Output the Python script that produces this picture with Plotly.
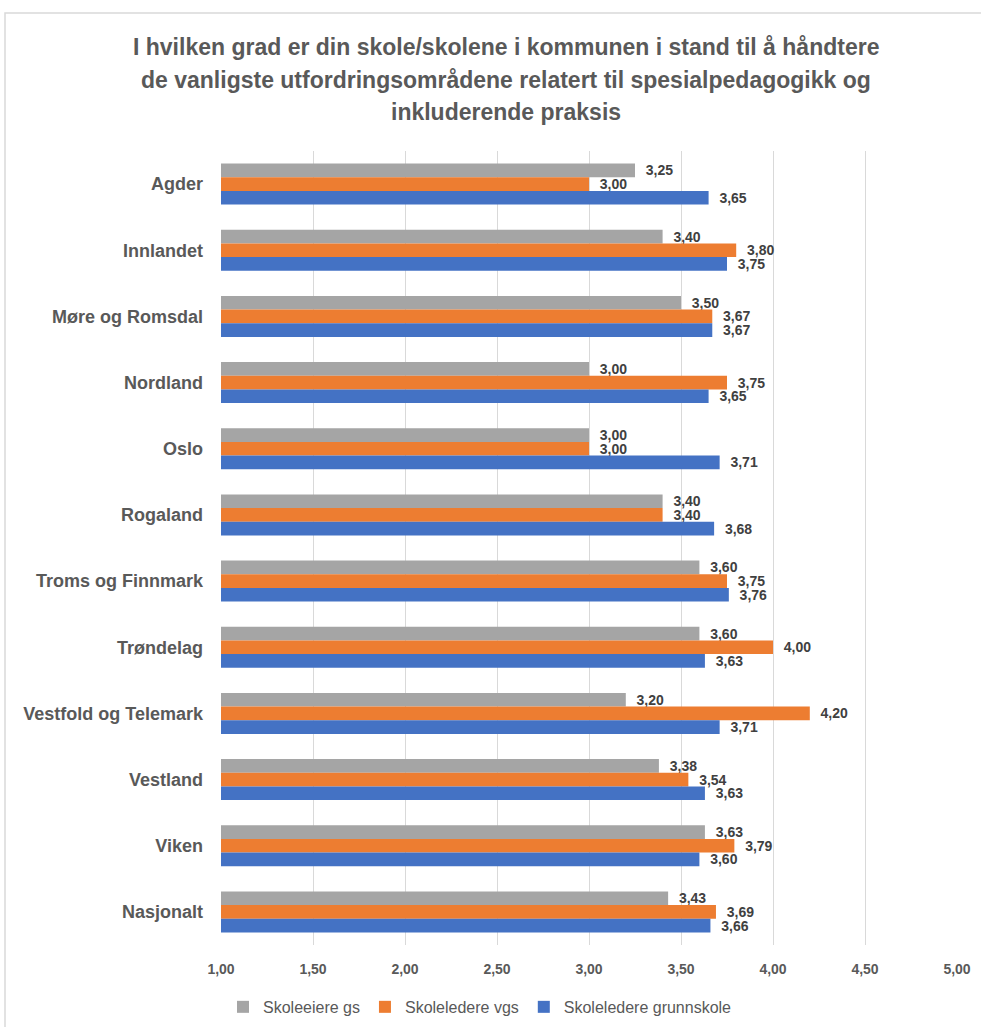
import plotly.graph_objects as go

# Regions shown on the category axis, top to bottom
regions = [
    "Agder", "Innlandet", "Møre og Romsdal", "Nordland", "Oslo", "Rogaland",
    "Troms og Finnmark", "Trøndelag", "Vestfold og Telemark", "Vestland",
    "Viken", "Nasjonalt",
]

# Mean scores per respondent group
skoleeiere_gs = [3.25, 3.40, 3.50, 3.00, 3.00, 3.40, 3.60, 3.60, 3.20, 3.38, 3.63, 3.43]
skoleledere_vgs = [3.00, 3.80, 3.67, 3.75, 3.00, 3.40, 3.75, 4.00, 4.20, 3.54, 3.79, 3.69]
skoleledere_grunnskole = [3.65, 3.75, 3.67, 3.65, 3.71, 3.68, 3.76, 3.63, 3.71, 3.63, 3.60, 3.66]

x_ticks = [1.0, 1.5, 2.0, 2.5, 3.0, 3.5, 4.0, 4.5, 5.0]

title_lines = [
    "I hvilken grad er din skole/skolene i kommunen i stand til å håndtere",
    "de vanligste utfordringsområdene relatert til spesialpedagogikk og",
    "inkluderende praksis",
]

series = [
    ("Skoleeiere gs", skoleeiere_gs, "#a5a5a5"),
    ("Skoleledere vgs", skoleledere_vgs, "#ed7d31"),
    ("Skoleledere grunnskole", skoleledere_grunnskole, "#4472c4"),
]

FONT = "Liberation Sans"
GREY_TEXT = "#595959"
NBSP = "\u00a0"

fig = go.Figure()
for name, values, color in series:
    fig.add_trace(go.Bar(
        y=regions,
        x=values,
        name=name,
        orientation="h",
        marker=dict(color=color, line=dict(width=0)),
        text=[NBSP * 2 + f"{v:.2f}".replace(".", ",") for v in values],
        textposition="outside",
        constraintext="none",
        textfont=dict(family=FONT, size=14, color="#404040", weight="bold"),
        cliponaxis=False,
    ))

W, H = 981, 1027
L, R, T, B = 221, 24, 151, 82

fig.update_layout(
    width=W,
    height=H,
    margin=dict(l=L, r=R, t=T, b=B, autoexpand=False),
    paper_bgcolor="white",
    plot_bgcolor="white",
    barmode="group",
    bargap=0.38,
    bargroupgap=0,
    separators=",.",
    font=dict(family=FONT, color=GREY_TEXT),
    showlegend=True,
    legend=dict(
        orientation="h",
        x=(223 - L) / (W - L - R), xanchor="left",
        y=-0.078, yanchor="middle",
        font=dict(family=FONT, size=16, color=GREY_TEXT),
        traceorder="normal",
        itemwidth=30,
    ),
    xaxis=dict(
        range=[1, 5],
        tickvals=x_ticks,
        tickformat=".2f",
        showgrid=True,
        gridcolor="#d9d9d9",
        gridwidth=1,
        zeroline=False,
        showline=False,
        ticks="",
        automargin=False,
        ticklabelstandoff=14,
        tickfont=dict(family=FONT, size=14, color=GREY_TEXT, weight="bold"),
    ),
    yaxis=dict(
        autorange="reversed",
        showgrid=False,
        zeroline=False,
        showline=False,
        ticks="",
        automargin=False,
        ticklabelstandoff=17,
        tickfont=dict(family=FONT, size=18, color=GREY_TEXT, weight="bold"),
    ),
)

# Chart frame
plot_w = W - L - R
plot_h = H - T - B
fig.add_shape(
    type="rect", xref="paper", yref="paper",
    x0=(5 - L) / plot_w, x1=(W + 10 - L) / plot_w,
    y0=(H - B - (H + 10)) / plot_h, y1=(H - B - 13) / plot_h,
    line=dict(color="#d9d9d9", width=1.5),
    fillcolor="rgba(0,0,0,0)",
    layer="below",
)

# Title, one annotation per line
for i, line in enumerate(title_lines):
    fig.add_annotation(
        text=line,
        xref="paper", yref="paper",
        x=(506 - L) / plot_w, y=(H - B - (47 + 32.5 * i)) / plot_h,
        xanchor="center", yanchor="middle",
        showarrow=False,
        font=dict(family=FONT, size=23, color=GREY_TEXT, weight="bold"),
    )

fig.write_html("out.html")
